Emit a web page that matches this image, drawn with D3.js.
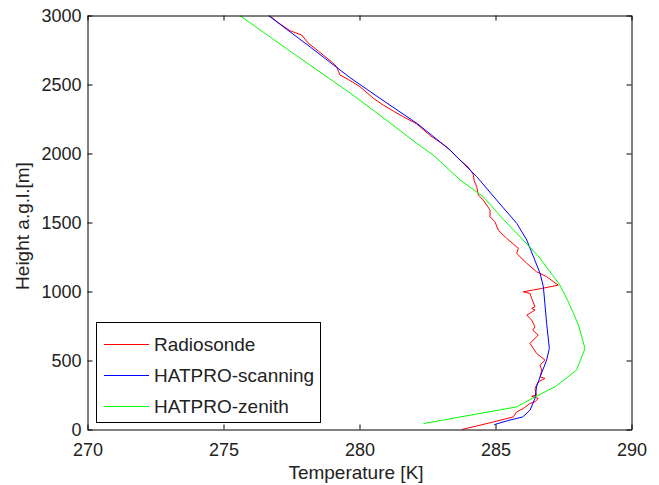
<!doctype html>
<html lang="en">
<head>
    <meta charset="utf-8">
    <title>Temperature profiles</title>
    <script src="https://d3js.org/d3.v7.min.js"></script>
    <style>
        body { margin: 0; background: #fff; }
        text { font-family: "Liberation Sans", Arial, sans-serif; fill: #222; }
    </style>
</head>
<body>
    <script>
        // Radiosonde profile (temperature K, height m)
        var sondeT = [276.72, 277.0, 277.44, 277.87, 278.12, 278.5, 279.0, 279.16, 279.28, 279.6, 280.02, 280.51, 280.88,
            281.49, 282.1, 282.6, 283.2, 283.6, 284.0, 284.18, 284.22, 284.31, 284.37, 284.55, 284.8, 284.8, 284.98,
            285.1, 285.41, 285.84, 285.78, 286.15, 286.51, 286.88, 287.31, 286.7, 286.02, 286.27, 286.33, 286.45,
            286.33, 286.45, 286.15, 286.33, 286.45, 286.37, 286.57, 286.27, 286.51, 286.82, 286.64, 286.7, 286.64,
            286.82, 286.57, 286.45, 286.51, 286.33, 286.57, 286.45, 286.27, 286.02, 285.78, 285.65, 285.17, 284.43, 283.76];
        var sondeH = [2995, 2950, 2890, 2859, 2799, 2740, 2660, 2629, 2569, 2535, 2484, 2400, 2350,
            2279, 2215, 2130, 2049, 1970, 1900, 1850, 1800, 1759, 1699, 1663, 1590, 1542, 1505,
            1445, 1385, 1313, 1276, 1204, 1143, 1107, 1046, 1022, 998, 986, 950, 889,
            877, 865, 829, 793, 744, 720, 684, 624, 551, 503, 466, 430, 381,
            370, 345, 297, 249, 241, 225, 200, 189, 152, 128, 91, 67, 31, 0];

        // HATPRO scanning retrieval
        var scanT = [284.95, 285.5, 286.0, 286.27, 286.45, 286.51, 286.64, 286.88, 286.98, 286.88, 286.76, 286.64,
            286.15, 285.78, 285.04, 284.31, 283.33, 282.15, 280.75, 279.65, 278.2, 276.65];
        var scanH = [35, 67, 91, 140, 225, 309, 381, 503, 587, 769, 1034, 1131,
            1373, 1494, 1663, 1832, 2025, 2213, 2400, 2550, 2770, 3000];

        // HATPRO zenith retrieval
        var zenT = [282.35, 285.78, 286.45, 287.19, 287.98, 288.29, 288.05, 287.68, 287.37, 286.6, 286.02, 285.3,
            284.55, 283.7, 282.7, 282.1, 281.0, 279.65, 277.6, 275.6];
        var zenH = [43, 164, 236, 309, 430, 587, 757, 925, 1046, 1250, 1373, 1520,
            1687, 1808, 1990, 2074, 2240, 2439, 2720, 3000];

        var xTicks = [270, 275, 280, 285, 290];
        var yTicks = [0, 500, 1000, 1500, 2000, 2500, 3000];

        var seriesNames = ["Radiosonde", "HATPRO-scanning", "HATPRO-zenith"];
        var seriesColors = ["#ff0000", "#0000ff", "#00ff00"];

        var width = 659, height = 485;
        var padL = 87.5, padR = 631.5, padT = 15.5, padB = 429.5;

        var x = d3.scaleLinear().domain([270, 290]).range([padL, padR]);
        var y = d3.scaleLinear().domain([0, 3000]).range([padB, padT]);

        var svg = d3.select("body").append("svg")
            .attr("width", width)
            .attr("height", height);

        var series = [
            { T: sondeT, H: sondeH },
            { T: scanT, H: scanH },
            { T: zenT, H: zenH }
        ];

        var line = d3.line()
            .x(function(d) { return x(d[0]); })
            .y(function(d) { return y(d[1]); });

        var plot = svg.append("g");
        series.forEach(function(s, i) {
            plot.append("path")
                .datum(d3.zip(s.T, s.H))
                .attr("fill", "none")
                .attr("stroke", seriesColors[i])
                .attr("stroke-width", 1)
                .attr("d", line);
        });

        // axes, ticks pointing inward on all four sides
        function styleAxis(g) {
            g.select(".domain").attr("stroke", "#000");
            g.selectAll(".tick line").attr("stroke", "#000");
            g.selectAll("text").attr("font-size", 18).attr("font-family", "Liberation Sans, Arial, sans-serif").attr("fill", "#222");
        }

        var fmt = d3.format("d");

        svg.append("g")
            .attr("transform", "translate(0," + padB + ")")
            .call(d3.axisBottom(x).tickValues(xTicks).tickFormat(fmt).tickSize(-5).tickSizeOuter(0).tickPadding(14))
            .call(styleAxis);
        svg.append("g")
            .attr("transform", "translate(0," + padT + ")")
            .call(d3.axisTop(x).tickValues(xTicks).tickSize(-5).tickSizeOuter(0).tickFormat(""))
            .call(styleAxis);
        svg.append("g")
            .attr("transform", "translate(" + padL + ",0)")
            .call(d3.axisLeft(y).tickValues(yTicks).tickFormat(fmt).tickSize(-5).tickSizeOuter(0).tickPadding(6))
            .call(styleAxis);
        svg.append("g")
            .attr("transform", "translate(" + padR + ",0)")
            .call(d3.axisRight(y).tickValues(yTicks).tickSize(-5).tickSizeOuter(0).tickFormat(""))
            .call(styleAxis);

        svg.append("text")
            .attr("x", 356)
            .attr("y", 479)
            .attr("text-anchor", "middle")
            .attr("font-size", 19)
            .text("Temperature [K]");

        svg.append("text")
            .attr("transform", "translate(29,226) rotate(-90)")
            .attr("text-anchor", "middle")
            .attr("font-size", 19)
            .text("Height a.g.l.[m]");

        // legend
        var legend = svg.append("g");
        legend.append("rect")
            .attr("x", 96.5).attr("y", 322.5)
            .attr("width", 224).attr("height", 100)
            .attr("fill", "#fff").attr("stroke", "#000");
        seriesNames.forEach(function(name, i) {
            var ly = 344 + i * 31;
            legend.append("line")
                .attr("x1", 104).attr("x2", 149)
                .attr("y1", ly + 0.5).attr("y2", ly + 0.5)
                .attr("stroke", seriesColors[i]);
            legend.append("text")
                .attr("x", 154).attr("y", ly + 7)
                .attr("font-size", 19)
                .text(name);
        });
    </script>
</body>
</html>
